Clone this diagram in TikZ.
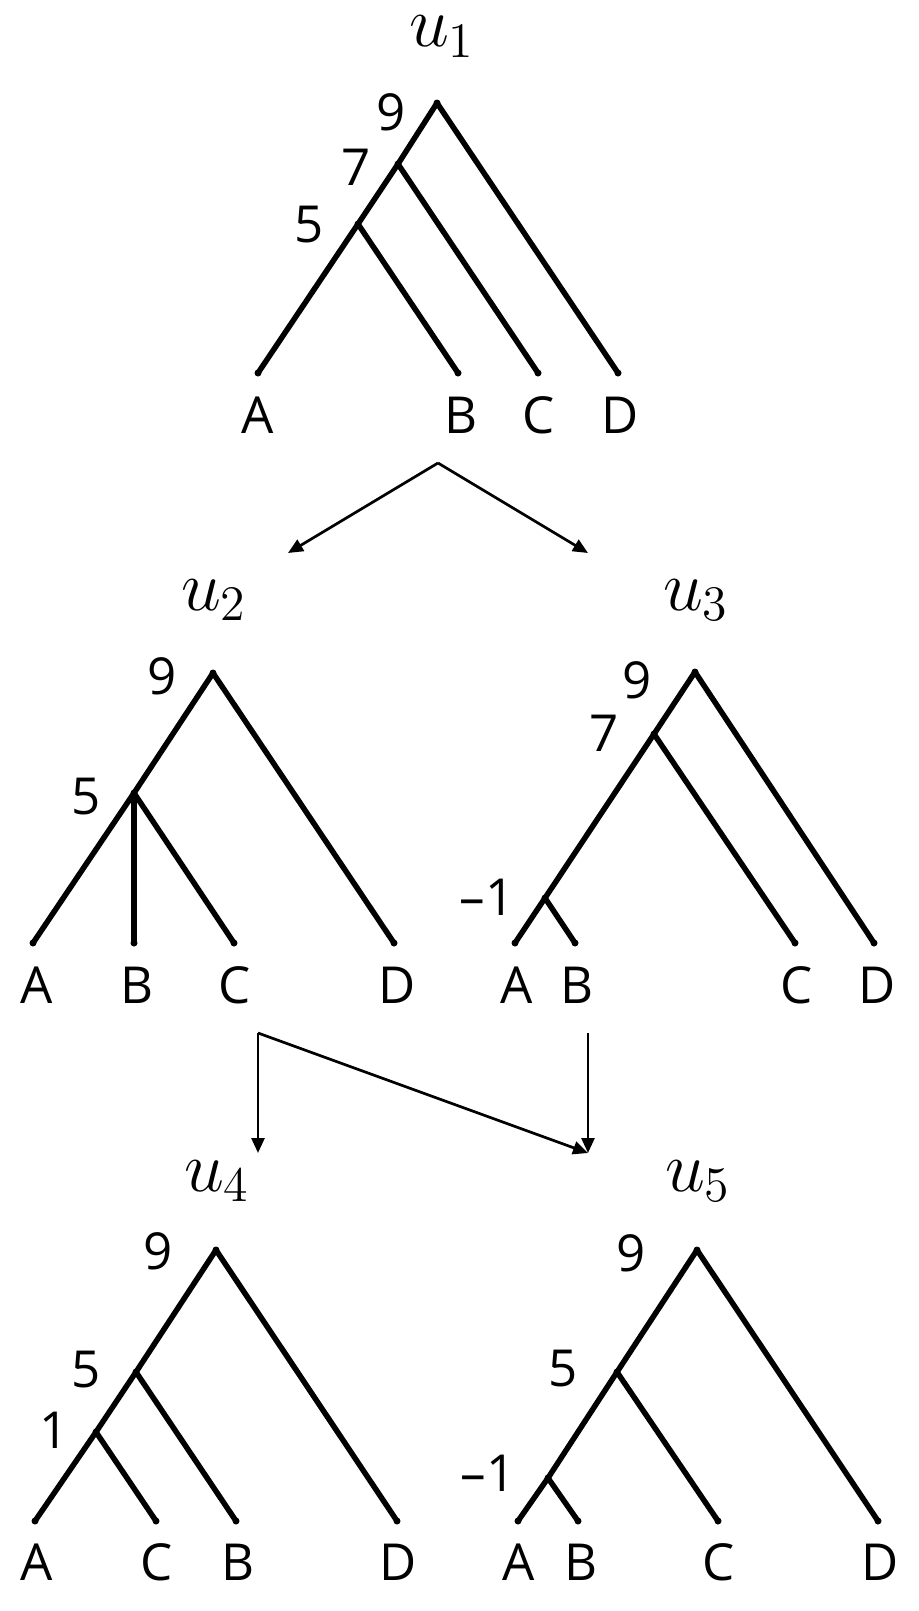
\documentclass[tikz,border=0pt]{standalone}
\usepackage{fontspec}
\usepackage{tikz}
\usetikzlibrary{arrows.meta}

\newfontfamily\lblfont{Open Sans}

\tikzset{
  edge/.style={line width=5.5pt, line cap=round},
  flow/.style={line width=2.7pt, -{Triangle[length=15pt,width=13pt]}},
  lbl/.style={font=\lblfont\fontsize{51}{60}\selectfont, inner sep=0pt},
  tname/.style={font=\fontsize{20.74}{24}\selectfont, scale=3.45, inner sep=0pt, anchor=base}
}

\begin{document}
\begin{tikzpicture}[x=1pt, y=-1pt]
\useasboundingbox (0,0) rectangle (918,1611);

% u1
\coordinate (r1) at (437,103);
\coordinate (p1) at (398,164);
\coordinate (q1) at (358,224);
\coordinate (a1) at (258,373);
\coordinate (b1) at (458,373);
\coordinate (c1) at (538,373);
\coordinate (d1) at (618,373);

\draw[edge] (r1) -- (d1);
\draw[edge] (r1) -- (p1);
\draw[edge] (p1) -- (c1);
\draw[edge] (p1) -- (q1);
\draw[edge] (q1) -- (a1);
\draw[edge] (q1) -- (b1);
\fill (r1) circle (3.5) (p1) circle (3.5) (q1) circle (3.5) (a1) circle (3.5) (b1) circle (3.5) (c1) circle (3.5) (d1) circle (3.5);

\node[tname] (t1) at (442,47) {$u_1$};
\node[lbl] (h1r) at (391,112) {9};
\node[lbl] (h1p) at (356,167) {7};
\node[lbl] (h1q) at (309,225) {5};
\node[lbl] (la1) at (258,415) {A};
\node[lbl] (lb1) at (461,415) {B};
\node[lbl] (lc1) at (539,415) {C};
\node[lbl] (ld1) at (620,415) {D};

% u2
\coordinate (r2) at (213,673);
\coordinate (q2) at (134,793);
\coordinate (a2) at (33,943);
\coordinate (b2) at (134,943);
\coordinate (c2) at (234,943);
\coordinate (d2) at (394,943);

\draw[edge] (r2) -- (d2);
\draw[edge] (r2) -- (q2);
\draw[edge] (q2) -- (a2);
\draw[edge] (q2) -- (b2);
\draw[edge] (q2) -- (c2);
\fill (r2) circle (3.5) (q2) circle (3.5) (a2) circle (3.5) (b2) circle (3.5) (c2) circle (3.5) (d2) circle (3.5);

\node[tname] (t2) at (214,610) {$u_2$};
\node[lbl] (h2r) at (162,676) {9};
\node[lbl] (h2q) at (86,797) {5};
\node[lbl] (la2) at (37,985) {A};
\node[lbl] (lb2) at (137,985) {B};
\node[lbl] (lc2) at (235,985) {C};
\node[lbl] (ld2) at (397,985) {D};

% u3
\coordinate (r3) at (695,672);
\coordinate (p3) at (654,734);
\coordinate (m3) at (545,898);
\coordinate (a3) at (515,943);
\coordinate (b3) at (575,943);
\coordinate (c3) at (795,943);
\coordinate (d3) at (874,943);

\draw[edge] (r3) -- (d3);
\draw[edge] (r3) -- (p3);
\draw[edge] (p3) -- (c3);
\draw[edge] (p3) -- (m3);
\draw[edge] (m3) -- (a3);
\draw[edge] (m3) -- (b3);
\fill (r3) circle (3.5) (p3) circle (3.5) (m3) circle (3.5) (a3) circle (3.5) (b3) circle (3.5) (c3) circle (3.5) (d3) circle (3.5);

\node[tname] (t3) at (696,610) {$u_3$};
\node[lbl] (h3r) at (637,680) {9};
\node[lbl] (h3p) at (604,733) {7};
\node[lbl] (h3m) at (487,897) {–1};
\node[lbl] (la3) at (517,985) {A};
\node[lbl] (lb3) at (577,985) {B};
\node[lbl] (lc3) at (797,985) {C};
\node[lbl] (ld3) at (877,985) {D};

% u4
\coordinate (r4) at (216,1250);
\coordinate (q4) at (136,1372);
\coordinate (n4) at (96,1432);
\coordinate (a4) at (35,1521);
\coordinate (c4) at (156,1521);
\coordinate (b4) at (236,1521);
\coordinate (d4) at (397,1521);

\draw[edge] (r4) -- (d4);
\draw[edge] (r4) -- (q4);
\draw[edge] (q4) -- (b4);
\draw[edge] (q4) -- (n4);
\draw[edge] (n4) -- (a4);
\draw[edge] (n4) -- (c4);
\fill (r4) circle (3.5) (q4) circle (3.5) (n4) circle (3.5) (a4) circle (3.5) (c4) circle (3.5) (b4) circle (3.5) (d4) circle (3.5);

\node[tname] (t4) at (217,1191) {$u_4$};
\node[lbl] (h4r) at (158,1251) {9};
\node[lbl] (h4q) at (86,1370) {5};
\node[lbl] (h4n) at (54,1430) {1};
\node[lbl] (la4) at (37,1562) {A};
\node[lbl] (lc4) at (157,1562) {C};
\node[lbl] (lb4) at (238,1562) {B};
\node[lbl] (ld4) at (398,1562) {D};

% u5
\coordinate (r5) at (697,1250);
\coordinate (q5) at (617,1372);
\coordinate (m5) at (548,1478);
\coordinate (a5) at (518,1521);
\coordinate (b5) at (578,1521);
\coordinate (c5) at (718,1521);
\coordinate (d5) at (878,1521);

\draw[edge] (r5) -- (d5);
\draw[edge] (r5) -- (q5);
\draw[edge] (q5) -- (c5);
\draw[edge] (q5) -- (m5);
\draw[edge] (m5) -- (a5);
\draw[edge] (m5) -- (b5);
\fill (r5) circle (3.5) (q5) circle (3.5) (m5) circle (3.5) (a5) circle (3.5) (b5) circle (3.5) (c5) circle (3.5) (d5) circle (3.5);

\node[tname] (t5) at (698,1191) {$u_5$};
\node[lbl] (h5r) at (631,1253) {9};
\node[lbl] (h5q) at (563,1369) {5};
\node[lbl] (h5m) at (488,1473) {–1};
\node[lbl] (la5) at (519,1562) {A};
\node[lbl] (lb5) at (581,1562) {B};
\node[lbl] (lc5) at (719,1562) {C};
\node[lbl] (ld5) at (880,1562) {D};

% arrows
\coordinate (s1) at (438,463);
\coordinate (e2) at (288,553);
\coordinate (e3) at (588,553);
\coordinate (s2) at (258,1033);
\coordinate (s3) at (588,1033);
\coordinate (e4) at (258,1153);
\coordinate (e5) at (588,1153);

\draw[flow] (s1) -- (e2);
\draw[flow] (s1) -- (e3);
\draw[flow] (s2) -- (e4);
\draw[flow] (s2) -- (e5);
\draw[flow] (s3) -- (e5);
\end{tikzpicture}
\end{document}
